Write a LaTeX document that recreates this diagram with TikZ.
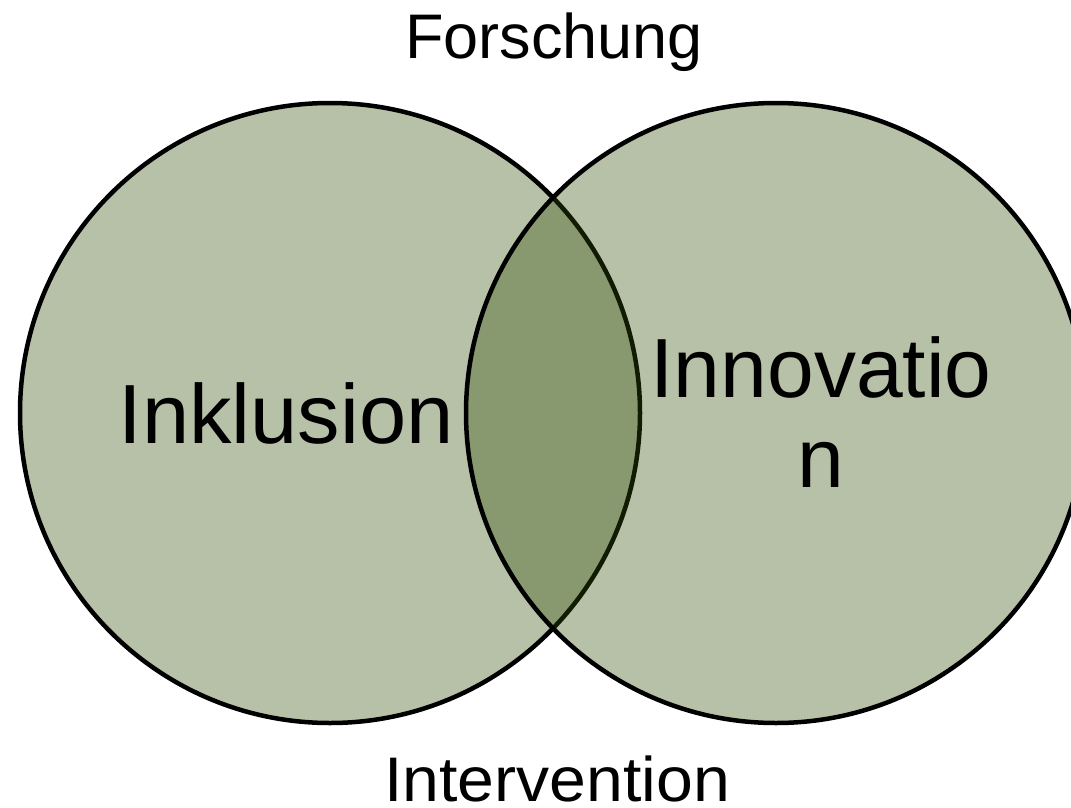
\documentclass[tikz,border=0pt]{standalone}
\usepackage{fontspec}
\setmainfont{Liberation Sans}
\definecolor{sage}{RGB}{49,78,6}
\tikzset{
  setcircle/.style={draw=black, line width=4.5pt, fill=sage, fill opacity=0.35, draw opacity=1},
  biglabel/.style={font=\fontsize{84}{90}\selectfont, text=black, inner sep=0pt},
  axislabel/.style={font=\fontsize{63}{70}\selectfont, text=black, inner sep=0pt, anchor=base}
}
\begin{document}
\begin{tikzpicture}[x=1pt,y=-1pt]
  \useasboundingbox (0,0) rectangle (1071,808);
  % the two overlapping sets
  \path[setcircle] (330,413) circle[radius=310];
  \path[setcircle] (776,413) circle[radius=310];
  % set names
  \node[biglabel, anchor=base, xscale=1.01] (inkl) at (286,443) {Inklusion};
  \node[biglabel, align=center, anchor=north] (inno) at (821,336) {Innovatio\\n};
  % axis labels above and below
  \node[axislabel] (forsch) at (554,59) {Forschung};
  \node[axislabel, xscale=1.05] (interv) at (557,801) {Intervention};
\end{tikzpicture}
\end{document}
